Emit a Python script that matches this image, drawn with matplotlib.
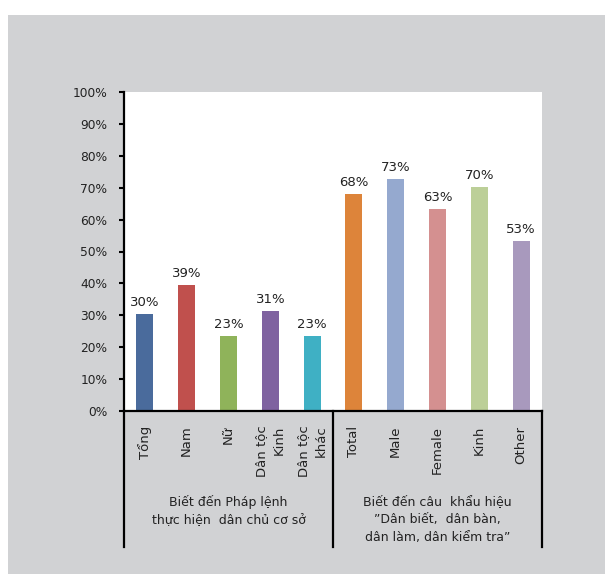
import matplotlib
matplotlib.use("Agg")
import matplotlib.pyplot as plt
from matplotlib.patches import Rectangle
from matplotlib.lines import Line2D
import matplotlib.transforms as mtransforms

categories = ["Tổng", "Nam", "Nữ", "Dân tộc\nKinh", "Dân tộc\nkhác",
              "Total", "Male", "Female", "Kinh", "Other"]
values = [0.304, 0.394, 0.234, 0.313, 0.234, 0.680, 0.727, 0.633, 0.702, 0.533]
colors = ["#4a6b9c", "#c0504d", "#8fb35a", "#7f62a0", "#3fb0c4",
          "#dd843a", "#95a9cf", "#d49090", "#bccf98", "#a899bd"]
group_labels = ["Biết đến Pháp lệnh\nthực hiện  dân chủ cơ sở",
                "Biết đến câu  khẩu hiệu\n\u201dDân biết,  dân bàn,\ndân làm, dân kiểm tra\u201d"]
group_bounds = [(-0.5, 4.5), (4.5, 9.5)]
yticks = [i / 10 for i in range(11)]
ytick_labels = [f"{i * 10}%" for i in range(11)]

plt.rcParams['font.family'] = ['DejaVu Sans']
fs_y = 8.8
fs_v = 9.5
fs_c = 9.5
fs_g = 9

fig = plt.figure(figsize=(6.05, 5.74), dpi=100, facecolor="white")
fig.patches.append(Rectangle((8 / 605, 0), 1 - 8 / 605, 1 - 15 / 574,
                             transform=fig.transFigure, facecolor="#d1d2d4",
                             edgecolor="none", zorder=-10))

ax = fig.add_axes([124 / 605, 1 - 411 / 574, (542 - 124) / 605, (411 - 92) / 574])
ax.set_zorder(1)
ax.set_facecolor("white")
x = list(range(len(categories)))
ax.bar(x, values, width=0.41, color=colors, zorder=2)
for xi, v in zip(x, values):
    ax.annotate(f"{round(v * 100)}%", (xi, v), xytext=(0, 3.5), textcoords="offset points",
                ha="center", va="bottom", fontsize=fs_v, color="#222222")

ax.set_xlim(-0.5, 9.5)
ax.set_ylim(0, 1)
ax.set_yticks(yticks, ytick_labels, fontsize=fs_y, color="#222222")
ax.tick_params(axis="y", length=3.5, width=1.5, pad=8.5, direction="out")
ax.set_xticks(x)
ax.set_xticklabels(categories, rotation=90, fontsize=fs_c, color="#222222",
                   ha="center", va="top", multialignment="right", linespacing=1.5)
ax.tick_params(axis="x", length=0, pad=10.5)
for s in ["top", "right"]:
    ax.spines[s].set_visible(False)
ax.spines["left"].set_linewidth(1.6)
ax.spines["bottom"].set_linewidth(1.6)

trans = mtransforms.blended_transform_factory(ax.transData, ax.transAxes)
ybot = (411 - 547) / (411 - 92)
for b in [-0.5, 4.5, 9.5]:
    ax.add_line(Line2D([b, b], [0, ybot], transform=trans, color="black",
                       linewidth=1.6, clip_on=False))
ygl = (411 - 495) / (411 - 92)
for (a, b), lab in zip(group_bounds, group_labels):
    ax.text((a + b) / 2, ygl, lab, transform=trans, ha="center", va="top",
            fontsize=fs_g, color="#222222", linespacing=1.5)

fig.savefig("out.png", dpi=100, facecolor=fig.get_facecolor())
